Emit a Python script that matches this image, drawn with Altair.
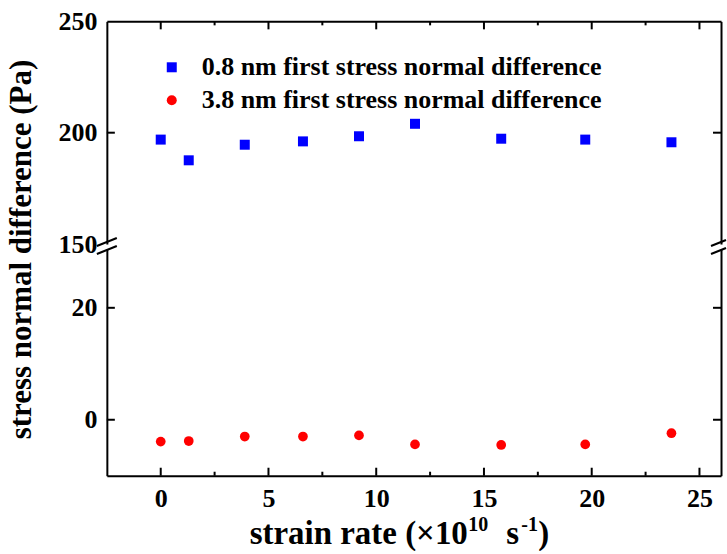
import altair as alt
import pandas as pd

# ---- data ----
rate = [0, 1.3, 3.9, 6.6, 9.2, 11.8, 15.8, 19.7, 23.7]
s08 = [196.9, 187.6, 194.6, 196.1, 198.4, 204.0, 197.3, 196.9, 195.7]
s38 = [-3.9, -3.8, -3.0, -3.0, -2.8, -4.4, -4.5, -4.4, -2.4]
series = ["0.8 nm first stress normal difference", "3.8 nm first stress normal difference"]
colors = ["#0000FF", "#FF0000"]
shapes = ["square", "circle"]
x_major = [0, 5, 10, 15, 20, 25]
x_minor = [2.5, 7.5, 12.5, 17.5, 22.5]
up_ticks = [150, 200, 250]
up_inner_ticks = [200]
low_ticks = [0, 20]
y_title = "stress normal difference (Pa)"
# x title pieces: main text, superscript, main, superscript, main
x_title_parts = ["strain rate (×10", "10", "s", "-1", ")"]

# ---- layout ----
W = 615
H_UP = 223
H_LOW = 227
SPACING = 5
XDOM = [-2.5, 26]
UPDOM = [150, 250]
LOWDOM = [-10, 30.5]
FONT = "Liberation Serif"

df_up = pd.DataFrame({"rate": rate, "value": s08, "series": series[0]})
df_low = pd.DataFrame({"rate": rate, "value": s38, "series": series[1]})
one = pd.DataFrame({"k": [0]})


def tdf(v):
    return pd.DataFrame({"t": v})


xs = alt.Scale(domain=XDOM, nice=False, zero=False)
ys_up = alt.Scale(domain=UPDOM, nice=False, zero=False)
ys_low = alt.Scale(domain=LOWDOM, nice=False, zero=False)

BLK = dict(color="black", strokeWidth=2)

# ---------------- upper panel ----------------
leg = alt.Legend(
    orient="none", legendX=52, legendY=33, title=None, padding=0,
    labelFont=FONT, labelFontSize=26, labelFontWeight="bold", labelColor="black",
    labelLimit=0, symbolSize=100, labelOffset=17, rowPadding=7,
    symbolStrokeWidth=0, symbolOpacity=1,
)

pts_up = alt.Chart(df_up).mark_point(filled=True, size=100, opacity=1).encode(
    x=alt.X("rate:Q", scale=xs,
            axis=alt.Axis(orient="top", labels=False, ticks=False, title=None)),
    y=alt.Y("value:Q", scale=ys_up,
            axis=alt.Axis(orient="left", values=up_ticks, ticks=False,
                          labelPadding=10, title=None)),
    color=alt.Color("series:N", scale=alt.Scale(domain=series, range=colors), legend=leg),
    shape=alt.Shape("series:N", scale=alt.Scale(domain=series, range=shapes), legend=leg),
)

xt_up_major = alt.Chart(tdf(x_major)).mark_rule(**BLK).encode(
    x=alt.X("t:Q", scale=xs, axis=None), y=alt.value(0), y2=alt.value(8))
xt_up_minor = alt.Chart(tdf(x_minor)).mark_rule(**BLK).encode(
    x=alt.X("t:Q", scale=xs, axis=None), y=alt.value(0), y2=alt.value(4))
yt_up_left = alt.Chart(tdf(up_inner_ticks)).mark_rule(**BLK).encode(
    y=alt.Y("t:Q", scale=ys_up, axis=None), x=alt.value(0), x2=alt.value(8))
yt_up_right = alt.Chart(tdf(up_inner_ticks)).mark_rule(**BLK).encode(
    y=alt.Y("t:Q", scale=ys_up,
            axis=alt.Axis(orient="right", labels=False, ticks=False, title=None)),
    x=alt.value(W - 8), x2=alt.value(W))

upper = alt.layer(
    pts_up, yt_up_right, xt_up_major, xt_up_minor, yt_up_left
).resolve_axis(x="independent", y="independent").properties(width=W, height=H_UP)

# ---------------- lower panel ----------------
pts_low = alt.Chart(df_low).mark_point(filled=True, size=95, opacity=1,
                                       shape="circle", color=colors[1]).encode(
    x=alt.X("rate:Q", scale=xs,
            axis=alt.Axis(orient="bottom", values=x_major, ticks=False,
                          labelPadding=10, labelOverlap=False, title=None)),
    y=alt.Y("value:Q", scale=ys_low,
            axis=alt.Axis(orient="left", values=low_ticks, ticks=False,
                          labelPadding=10, title=y_title,
                          titleFontSize=31, titleX=-69, titleY=0)),
)

xt_low_major = alt.Chart(tdf(x_major)).mark_rule(**BLK).encode(
    x=alt.X("t:Q", scale=xs, axis=None), y=alt.value(H_LOW), y2=alt.value(H_LOW - 8))
xt_low_minor = alt.Chart(tdf(x_minor)).mark_rule(**BLK).encode(
    x=alt.X("t:Q", scale=xs, axis=None), y=alt.value(H_LOW), y2=alt.value(H_LOW - 4))
yt_low_left = alt.Chart(tdf(low_ticks)).mark_rule(**BLK).encode(
    y=alt.Y("t:Q", scale=ys_low, axis=None), x=alt.value(0), x2=alt.value(8))
yt_low_right = alt.Chart(tdf(low_ticks)).mark_rule(**BLK).encode(
    y=alt.Y("t:Q", scale=ys_low,
            axis=alt.Axis(orient="right", labels=False, ticks=False, title=None)),
    x=alt.value(W - 8), x2=alt.value(W))

# axis-break marks (two short diagonals on each side)
brk = []
for cx, lo, hi in ((0, -10, 10), (W, -10, 5)):
    for cy in (-7, 1):
        brk.append(alt.Chart(one).mark_rule(**BLK).encode(
            x=alt.value(cx + lo), x2=alt.value(cx + hi),
            y=alt.value(cy - lo * 0.4), y2=alt.value(cy - hi * 0.4)))

# x-axis title built from pieces so that the exponents are real superscripts
BASE = H_LOW + 68
x_pos = [143, 362, 400, 415, 432]
sizes = [33, 20, 33, 20, 33]
raise_ = [0, 13, 0, 13, 0]
xtitle = []
for txt, px, fs, r in zip(x_title_parts, x_pos, sizes, raise_):
    xtitle.append(alt.Chart(one).mark_text(
        font=FONT, fontWeight="bold", fontSize=fs, color="black",
        align="left", baseline="alphabetic").encode(
        x=alt.value(px), y=alt.value(BASE - r), text=alt.value(txt)))

lower = alt.layer(
    pts_low, yt_low_right, xt_low_major, xt_low_minor, yt_low_left, *brk, *xtitle
).resolve_axis(x="independent", y="independent").properties(width=W, height=H_LOW)

chart = alt.vconcat(upper, lower, spacing=SPACING, bounds="flush").resolve_legend(
    color="independent", shape="independent"
).properties(
    padding={"left": 5, "top": 8, "right": 0, "bottom": 0}
).configure_view(stroke=None).configure_axis(
    labelFont=FONT, titleFont=FONT, labelFontWeight="bold", titleFontWeight="bold",
    labelColor="black", titleColor="black", labelFontSize=26,
    domainColor="black", domainWidth=2, grid=False,
)

chart.save("out.html", embed_options={"renderer": "svg", "actions": False})
